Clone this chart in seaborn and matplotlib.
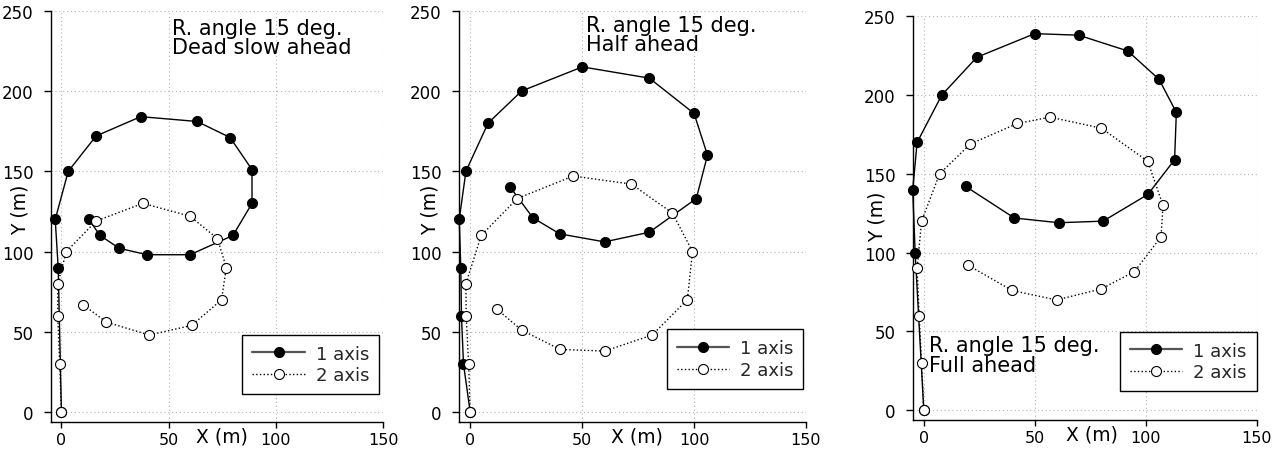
import matplotlib
matplotlib.use("Agg")
import matplotlib.pyplot as plt
import seaborn as sns
import pandas as pd

sns.set_theme(style="white")
plt.rcParams['font.family'] = ['DejaVu Sans']

# ---------------- data ----------------
# Panel 1 : Dead slow ahead
p1_axis1_x = [0, -1.5, -2.9, 3.2, 16.2, 37, 63.3, 78.7, 88.9, 88.9, 80, 60, 40, 27, 18, 12.8]
p1_axis1_y = [0, 90, 120, 150, 172, 184, 181, 171, 151, 130, 110, 98, 98, 102, 110, 120]
p1_axis2_x = [0, -0.8, -1.7, -1.7, 2.3, 16.2, 38, 60, 72.8, 76.9, 74.7, 60.8, 41, 21, 10]
p1_axis2_y = [0, 30, 60, 80, 100, 119, 130, 122, 108, 90, 70, 54, 48, 56, 67]

# Panel 2 : Half ahead
p2_axis1_x = [0, -3, -3.9, -4.2, -4.9, -1.9, 8, 23, 50.1, 80, 100, 106, 101, 80, 60, 40, 28, 17.9]
p2_axis1_y = [0, 30, 60, 90, 120, 150, 180, 200, 215, 208, 186, 160, 133, 112, 106, 111, 121, 140]
p2_axis2_x = [0, -0.7, -1.8, -1.9, 4.9, 21, 46, 72, 90.3, 99.3, 97, 81.3, 60.1, 40.2, 23, 12]
p2_axis2_y = [0, 30, 60, 80, 110, 133, 147, 142, 124, 100, 70, 48, 38, 39, 51, 64]

# Panel 3 : Full ahead
p3_axis1_x = [0, -3.9, -5, -3, 8.1, 23.9, 50, 69.8, 91.9, 106, 113.8, 113, 101, 80.8, 60.8, 40.8, 18.9]
p3_axis1_y = [0, 100, 140, 170, 200, 224, 239, 238, 228, 210, 189, 159, 137, 120, 119, 122, 142]
p3_axis2_x = [0, -1, -2.1, -3, -1, 7.1, 21, 42.2, 56.9, 80, 100.9, 107.8, 106.9, 94.9, 80, 59.8, 39.8, 20]
p3_axis2_y = [0, 30, 60, 90, 120, 150, 169, 182, 186, 179, 158, 130, 110, 88, 77, 70, 76, 92]

series_labels = ["1 axis", "2 axis"]
panel_texts = ["R. angle 15 deg.\nDead slow ahead",
               "R. angle 15 deg.\nHalf ahead",
               "R. angle 15 deg.\nFull ahead"]
x_ticks = [0, 50, 100, 150]
y_ticks = [0, 50, 100, 150, 200, 250]

# ---------------- layout ----------------
W, H = 1279, 452
fig = plt.figure(figsize=(W / 100, H / 100), dpi=100)

def px_axes(left, right, top, bottom):
    return fig.add_axes([left / W, 1 - bottom / H, (right - left) / W, (bottom - top) / H])

axes = [
    px_axes(50.7, 383, 11.7, 422.7),
    px_axes(459, 806, 11.7, 422.7),
    px_axes(912.7, 1256.7, 17.3, 420.7),
]

panels = [
    (p1_axis1_x, p1_axis1_y, p1_axis2_x, p1_axis2_y),
    (p2_axis1_x, p2_axis1_y, p2_axis2_x, p2_axis2_y),
    (p3_axis1_x, p3_axis1_y, p3_axis2_x, p3_axis2_y),
]

text_pos = [(51.7, 245.5), (51.6, 247.5), (2.4, 47.5)]
ylabel_pos = [(-0.092, 0.517), (-0.084, 0.517), (-0.104, 0.505)]
xlabel_pos = [(0.515, -0.036), (0.512, -0.034), (0.52, -0.035)]
legend_anchor = [(0.988, 0.067), (0.992, 0.080), (1.0, 0.071)]

for i, ax in enumerate(axes):
    x1, y1, x2, y2 = panels[i]
    df1 = pd.DataFrame({"x": x1, "y": y1})
    df2 = pd.DataFrame({"x": x2, "y": y2})
    sns.lineplot(data=df1, x="x", y="y", sort=False, estimator=None, ax=ax,
                 color="black", lw=1.0, marker="o", markersize=7.2,
                 markerfacecolor="black", markeredgecolor="black",
                 markeredgewidth=0.8, label=series_labels[0], clip_on=False, zorder=3)
    sns.lineplot(data=df2, x="x", y="y", sort=False, estimator=None, ax=ax,
                 color="black", lw=1.0, linestyle=":", marker="o", markersize=7.2,
                 markerfacecolor="white", markeredgecolor="black",
                 markeredgewidth=0.8, label=series_labels[1], clip_on=False, zorder=4)

    ax.set_xlim(-5, 150)
    ax.set_ylim(-6, 250)
    ax.set_xticks(x_ticks)
    ax.set_yticks(y_ticks)
    ax.grid(True, linestyle=(0, (1, 2.5)), color="#b5b5b5", linewidth=0.8)
    ax.set_axisbelow(True)
    for s in ["top", "right"]:
        ax.spines[s].set_visible(False)
    for s in ["left", "bottom"]:
        ax.spines[s].set_color("black")
        ax.spines[s].set_linewidth(1.0)
    ax.tick_params(axis="y", direction="out", length=5, width=1, color="black",
                   labelsize=12, pad=7.5, labelcolor="black", left=True)
    ax.tick_params(axis="x", direction="out", length=4.5, width=1, color="black",
                   labelsize=11.5, pad=3, labelcolor="black", bottom=True)

    ax.set_xlabel("X (m)", fontsize=13.5, color="black")
    ax.set_ylabel("Y (m)", fontsize=13.5, color="black")
    ax.xaxis.label.set_va("center")
    ax.yaxis.label.set_va("center")
    ax.xaxis.set_label_coords(*xlabel_pos[i])
    ax.yaxis.set_label_coords(*ylabel_pos[i])

    ax.text(text_pos[i][0], text_pos[i][1], panel_texts[i], fontsize=15,
            va="top", ha="left", linespacing=0.95, color="black", zorder=5)

    leg = ax.legend(loc="lower right", bbox_to_anchor=legend_anchor[i],
                    frameon=True, fancybox=False, edgecolor="black", framealpha=1,
                    fontsize=13, handlelength=2.9, borderpad=0.55, labelspacing=0.2,
                    handletextpad=0.6, borderaxespad=0)
    leg.get_frame().set_linewidth(1.0)
    leg.get_lines()[0].set_color("#555555")
    leg.get_lines()[0].set_linewidth(1.6)

fig.savefig("out.png", dpi=100)
